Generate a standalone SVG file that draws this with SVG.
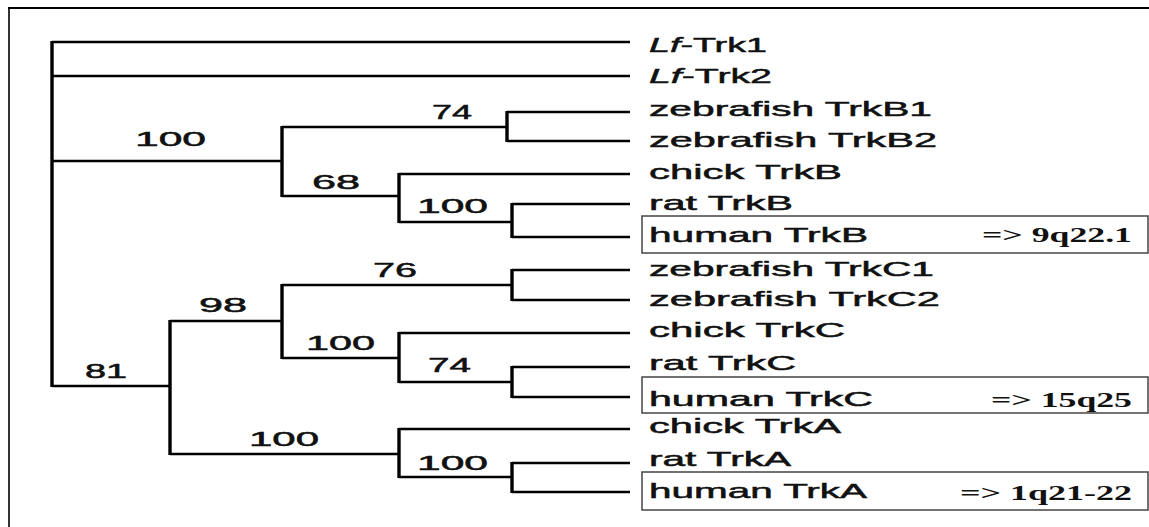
<svg xmlns="http://www.w3.org/2000/svg" width="1149" height="527" viewBox="0 0 1149 527">
<style>
.tx{font-family:"Liberation Sans",Arial,sans-serif;font-size:21px;fill:#111;stroke:#111;stroke-width:0.5}
.bs{font-family:"Liberation Sans",Arial,sans-serif;font-size:20px;fill:#111;stroke:#111;stroke-width:0.5}
.loc{font-family:"Liberation Serif","Times New Roman",serif;font-size:21px;font-weight:bold;fill:#111}
.h{stroke:#000;stroke-width:2.4;fill:none}
.v{stroke:#000;stroke-width:3.4;fill:none}
.box{fill:none;stroke:#444;stroke-width:1.5}
</style>
<rect width="1149" height="527" fill="#fff"/>
<g id="frame">
<line x1="8" y1="8" x2="1149" y2="8" stroke="#000" stroke-width="2"/>
<line x1="9" y1="7" x2="9" y2="527" stroke="#000" stroke-width="1.6"/>
</g>
<g id="connectors">
<line class="v" x1="52" y1="41" x2="52" y2="387" stroke-width="4"/>
<line class="h" x1="52" y1="42" x2="630" y2="42"/>
<line class="h" x1="52" y1="76" x2="630" y2="76"/>
<line class="h" x1="52" y1="161" x2="282" y2="161"/>
<line class="v" x1="282" y1="126" x2="282" y2="197"/>
<line class="h" x1="282" y1="127" x2="507" y2="127"/>
<line class="v" x1="507" y1="111" x2="507" y2="142"/>
<line class="h" x1="507" y1="112" x2="630" y2="112"/>
<line class="h" x1="507" y1="141" x2="630" y2="141"/>
<line class="h" x1="282" y1="196" x2="399" y2="196"/>
<line class="v" x1="399" y1="173" x2="399" y2="223"/>
<line class="h" x1="399" y1="174" x2="630" y2="174"/>
<line class="h" x1="399" y1="222" x2="512" y2="222"/>
<line class="v" x1="512" y1="203" x2="512" y2="238"/>
<line class="h" x1="512" y1="204" x2="630" y2="204"/>
<line class="h" x1="512" y1="237" x2="630" y2="237"/>
<line class="h" x1="52" y1="386" x2="170" y2="386"/>
<line class="v" x1="170" y1="320" x2="170" y2="455"/>
<line class="h" x1="170" y1="321" x2="282" y2="321"/>
<line class="v" x1="282" y1="284" x2="282" y2="359"/>
<line class="h" x1="282" y1="285" x2="512" y2="285"/>
<line class="v" x1="512" y1="269" x2="512" y2="301"/>
<line class="h" x1="512" y1="270" x2="630" y2="270"/>
<line class="h" x1="512" y1="300" x2="630" y2="300"/>
<line class="h" x1="282" y1="358" x2="399" y2="358"/>
<line class="v" x1="399" y1="332" x2="399" y2="383"/>
<line class="h" x1="399" y1="333" x2="630" y2="333"/>
<line class="h" x1="399" y1="382" x2="512" y2="382"/>
<line class="v" x1="512" y1="366" x2="512" y2="398"/>
<line class="h" x1="512" y1="367" x2="630" y2="367"/>
<line class="h" x1="512" y1="397" x2="630" y2="397"/>
<line class="h" x1="170" y1="454" x2="399" y2="454"/>
<line class="v" x1="399" y1="428" x2="399" y2="478"/>
<line class="h" x1="399" y1="429" x2="630" y2="429"/>
<line class="h" x1="399" y1="477" x2="512" y2="477"/>
<line class="v" x1="512" y1="462" x2="512" y2="493"/>
<line class="h" x1="512" y1="463" x2="630" y2="463"/>
<line class="h" x1="512" y1="492" x2="630" y2="492"/>
</g>
<g id="support">
<text class="bs" x="135" y="146" textLength="71" lengthAdjust="spacingAndGlyphs">100</text>
<text class="bs" x="432" y="119" textLength="40" lengthAdjust="spacingAndGlyphs">74</text>
<text class="bs" x="312" y="189" textLength="48" lengthAdjust="spacingAndGlyphs">68</text>
<text class="bs" x="417" y="213" textLength="71" lengthAdjust="spacingAndGlyphs">100</text>
<text class="bs" x="373" y="277" textLength="44" lengthAdjust="spacingAndGlyphs">76</text>
<text class="bs" x="199" y="312" textLength="48" lengthAdjust="spacingAndGlyphs">98</text>
<text class="bs" x="306" y="350" textLength="69" lengthAdjust="spacingAndGlyphs">100</text>
<text class="bs" x="428" y="372" textLength="43" lengthAdjust="spacingAndGlyphs">74</text>
<text class="bs" x="85" y="378" textLength="42" lengthAdjust="spacingAndGlyphs">81</text>
<text class="bs" x="249" y="446" textLength="70" lengthAdjust="spacingAndGlyphs">100</text>
<text class="bs" x="417" y="470" textLength="71" lengthAdjust="spacingAndGlyphs">100</text>
</g>
<g id="lf-trk1"><text class="tx" x="649" y="52" textLength="118" lengthAdjust="spacingAndGlyphs"><tspan font-style="italic">Lf</tspan>-Trk1</text></g>
<g id="lf-trk2"><text class="tx" x="649" y="83" textLength="123" lengthAdjust="spacingAndGlyphs"><tspan font-style="italic">Lf</tspan>-Trk2</text></g>
<g id="zf-trkb1"><text class="tx" x="649" y="116" textLength="283" lengthAdjust="spacingAndGlyphs">zebrafish TrkB1</text></g>
<g id="zf-trkb2"><text class="tx" x="649" y="147" textLength="288" lengthAdjust="spacingAndGlyphs">zebrafish TrkB2</text></g>
<g id="chick-trkb"><text class="tx" x="649" y="179" textLength="193" lengthAdjust="spacingAndGlyphs">chick TrkB</text></g>
<g id="rat-trkb"><text class="tx" x="649" y="210" textLength="144" lengthAdjust="spacingAndGlyphs">rat TrkB</text></g>
<g id="human-trkb">
<rect class="box" x="642" y="216" width="506" height="37"/>
<text class="tx" x="649" y="242" textLength="219" lengthAdjust="spacingAndGlyphs">human TrkB</text>
<text class="loc" x="982" y="242" textLength="150" lengthAdjust="spacingAndGlyphs">=&gt; 9q22.1</text>
</g>
<g id="zf-trkc1"><text class="tx" x="649" y="276" textLength="285" lengthAdjust="spacingAndGlyphs">zebrafish TrkC1</text></g>
<g id="zf-trkc2"><text class="tx" x="649" y="306" textLength="291" lengthAdjust="spacingAndGlyphs">zebrafish TrkC2</text></g>
<g id="chick-trkc"><text class="tx" x="649" y="337" textLength="196" lengthAdjust="spacingAndGlyphs">chick TrkC</text></g>
<g id="rat-trkc"><text class="tx" x="649" y="370" textLength="147" lengthAdjust="spacingAndGlyphs">rat TrkC</text></g>
<g id="human-trkc">
<rect class="box" x="642" y="377" width="506" height="36"/>
<text class="tx" x="649" y="406" textLength="224" lengthAdjust="spacingAndGlyphs">human TrkC</text>
<text class="loc" x="991" y="407" textLength="141" lengthAdjust="spacingAndGlyphs">=&gt; 15q25</text>
</g>
<g id="chick-trka"><text class="tx" x="649" y="433" textLength="192" lengthAdjust="spacingAndGlyphs">chick TrkA</text></g>
<g id="rat-trka"><text class="tx" x="649" y="466" textLength="142" lengthAdjust="spacingAndGlyphs">rat TrkA</text></g>
<g id="human-trka">
<rect class="box" x="642" y="472" width="506" height="38"/>
<text class="tx" x="649" y="498" textLength="218" lengthAdjust="spacingAndGlyphs">human TrkA</text>
<text class="loc" x="960" y="500" textLength="172" lengthAdjust="spacingAndGlyphs">=&gt; 1q21-22</text>
</g>
</svg>
